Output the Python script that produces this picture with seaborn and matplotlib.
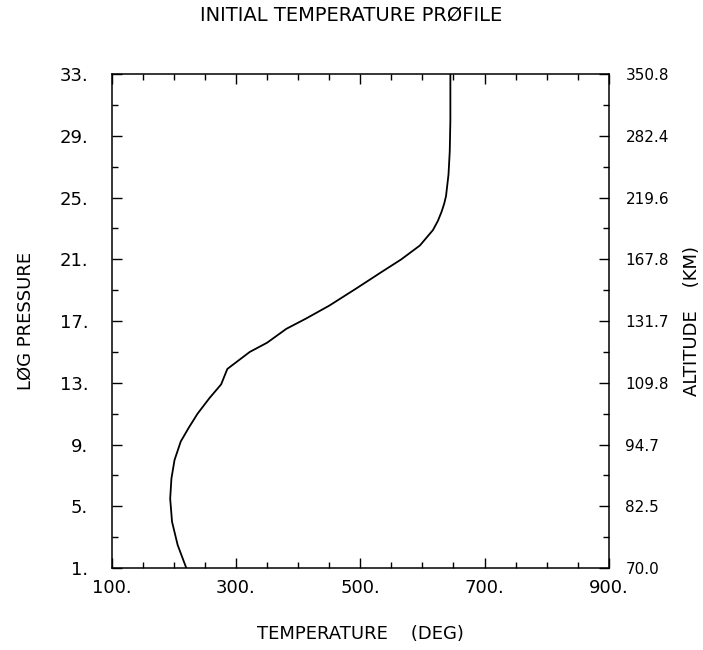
import matplotlib
matplotlib.use("Agg")
import matplotlib.pyplot as plt
import seaborn as sns
import numpy as np
import pandas as pd

# ---- data ----
log_pressure = [1.0, 2.5, 4.0, 5.5, 6.8, 8.0, 9.2, 10.1, 11.0, 12.0, 12.9, 13.9,
                15.0, 15.6, 16.5, 17.15, 18.0, 19.1, 20.2, 21.0, 21.9, 22.9,
                23.5, 24.1, 24.6, 25.1, 26.5, 28.0, 30.0, 33.0]
temperature = [220, 206, 197, 194, 196, 201, 211, 224, 238, 257, 276, 286,
               322, 350, 381, 412, 450, 493, 535, 566, 596, 617,
               625, 631, 635, 638, 642, 644, 645, 645]

x_tick_values = [100, 300, 500, 700, 900]
x_tick_labels = ["100.", "300.", "500.", "700.", "900."]
y_tick_values = [1, 5, 9, 13, 17, 21, 25, 29, 33]
y_tick_labels = ["1.", "5.", "9.", "13.", "17.", "21.", "25.", "29.", "33."]
alt_tick_labels = ["70.0", "82.5", "94.7", "109.8", "131.7", "167.8", "219.6", "282.4", "350.8"]

df = pd.DataFrame({"T": temperature, "logP": log_pressure})

sns.set_theme(style="white")
plt.rcParams['font.family'] = ['DejaVu Sans']
plt.rcParams['text.color'] = 'black'
plt.rcParams['axes.labelcolor'] = 'black'
plt.rcParams['xtick.color'] = 'black'
plt.rcParams['ytick.color'] = 'black'

fig = plt.figure(figsize=(7.03, 6.50), dpi=100)
ax = fig.add_axes([0.159, 0.126, 0.707, 0.760])

sns.lineplot(data=df, x="T", y="logP", sort=False, estimator=None,
             color="black", linewidth=1.3, ax=ax)

ax.set_xlim(100, 900)
ax.set_ylim(1, 33)

for sp in ax.spines.values():
    sp.set_color("black")
    sp.set_linewidth(1.1)

ax.set_xticks(x_tick_values)
ax.set_xticklabels(x_tick_labels, fontsize=13)
ax.set_xticks(np.arange(150, 900, 50), minor=True)
ax.set_yticks(y_tick_values)
ax.set_yticklabels(y_tick_labels, fontsize=13)
ax.set_yticks(np.arange(3, 33, 4), minor=True)

ax.tick_params(axis="both", which="major", direction="in", length=7, width=1.0,
               color="black", labelcolor="black", top=True, bottom=True, left=True, right=False)
ax.tick_params(axis="both", which="minor", direction="in", length=4.5, width=1.0,
               color="black", top=True, bottom=True, left=True, right=False)
ax.tick_params(axis="x", which="major", pad=8)
ax.tick_params(axis="y", which="major", pad=17)

ax.set_xlabel("TEMPERATURE    (DEG)", fontsize=13, labelpad=20, color="black")
ax.set_ylabel("LØG PRESSURE", fontsize=13, labelpad=18, color="black")

ax2 = ax.twinx()
ax2.set_ylim(1, 33)
ax2.set_yticks(y_tick_values)
ax2.set_yticklabels(alt_tick_labels, fontsize=11)
ax2.set_yticks(np.arange(3, 33, 4), minor=True)
ax2.tick_params(axis="y", which="major", direction="in", length=7, width=1.0,
                color="black", labelcolor="black", pad=12)
ax2.tick_params(axis="y", which="minor", direction="in", length=4.5, width=1.0,
                color="black")
ax2.set_ylabel("ALTITUDE    (KM)", fontsize=13, labelpad=10, color="black")
for sp in ax2.spines.values():
    sp.set_visible(False)

fig.text(0.5, 0.977, "INITIAL TEMPERATURE PRØFILE", ha="center", va="center",
         fontsize=14, color="black")

fig.savefig("out.png", dpi=100, facecolor="white")
